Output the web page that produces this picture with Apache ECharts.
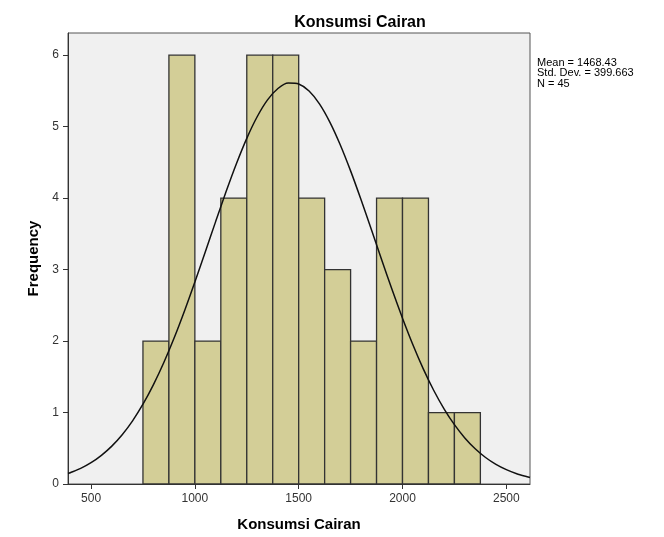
<!DOCTYPE html>
<html>
<head>
<meta charset="utf-8">
<script src="https://cdn.jsdelivr.net/npm/echarts@6/dist/echarts.min.js"></script>
<style>html,body{margin:0;padding:0;background:#fff}#c{width:664px;height:537px}</style>
</head>
<body>
<div id="c"></div>
<script>
// Histogram bins (lower edge, upper edge) and frequencies
const binStarts = [750, 875, 1000, 1125, 1250, 1375, 1500, 1625, 1750, 1875, 2000, 2125, 2250];
const binEnds   = [875, 1000, 1125, 1250, 1375, 1500, 1625, 1750, 1875, 2000, 2125, 2250, 2375];
const frequencies = [2, 6, 2, 4, 6, 6, 4, 3, 2, 4, 4, 1, 1];

// Fitted normal curve
const curveX = [389, 400, 450, 500, 550, 600, 650, 700, 750, 800, 850, 900, 950, 1000, 1050, 1100, 1150, 1200, 1250, 1300, 1350, 1400, 1450, 1500, 1550, 1600, 1650, 1700, 1750, 1800, 1850, 1900, 1950, 2000, 2050, 2100, 2150, 2200, 2250, 2300, 2350, 2400, 2450, 2500, 2550, 2600, 2614];
const curveY = [0.146, 0.158, 0.218, 0.298, 0.401, 0.530, 0.690, 0.884, 1.116, 1.387, 1.696, 2.042, 2.421, 2.825, 3.246, 3.671, 4.088, 4.481, 4.836, 5.138, 5.374, 5.533, 5.609, 5.597, 5.499, 5.319, 5.064, 4.747, 4.381, 3.980, 3.560, 3.134, 2.717, 2.319, 1.948, 1.611, 1.312, 1.052, 0.830, 0.645, 0.493, 0.371, 0.275, 0.201, 0.144, 0.102, 0.092];

const xTicks = [500, 1000, 1500, 2000, 2500];
const yTicks = [0, 1, 2, 3, 4, 5, 6];
const statsLines = ['Mean = 1468.43', 'Std. Dev. = 399.663', 'N = 45'];

const barData = binStarts.map((s, i) => [s, binEnds[i], frequencies[i]]);
const curveData = curveX.map((x, i) => [x, curveY[i]]);

const chart = echarts.init(document.getElementById('c'), null, {renderer: 'canvas'});
const font = 'Liberation Sans, Arial, sans-serif';
chart.setOption({
  animation: false,
  backgroundColor: '#ffffff',
  title: {
    text: 'Konsumsi Cairan',
    left: 355, top: 10, textAlign: 'center',
    textStyle: {fontFamily: font, fontSize: 16, fontWeight: 'bold', color: '#000'}
  },
  grid: {
    left: 68, top: 33, width: 462, height: 451,
    show: true, backgroundColor: '#f0f0f0', borderColor: '#555', borderWidth: 1
  },
  xAxis: {
    type: 'value', min: 389, max: 2614,
    name: 'Konsumsi Cairan', nameLocation: 'middle', nameGap: 33,
    nameTextStyle: {fontFamily: font, fontSize: 15, fontWeight: 'bold', color: '#000'},
    axisLine: {show: true, lineStyle: {color: '#333', width: 1}},
    axisTick: {show: true, length: 5, lineStyle: {color: '#333'}, customValues: xTicks},
    axisLabel: {customValues: xTicks, margin: 9, fontFamily: font, fontSize: 12, color: '#333',
      formatter: v => String(v)},
    splitLine: {show: false}
  },
  yAxis: {
    type: 'value', min: 0, max: 6.31,
    name: 'Frequency', nameLocation: 'middle', nameGap: 25,
    nameTextStyle: {fontFamily: font, fontSize: 15, fontWeight: 'bold', color: '#000'},
    axisLine: {show: true, lineStyle: {color: '#333', width: 1}},
    axisTick: {show: true, length: 5, lineStyle: {color: '#333'}, customValues: yTicks},
    axisLabel: {customValues: yTicks, margin: 9, fontFamily: font, fontSize: 12, color: '#333',
      formatter: v => String(v)},
    splitLine: {show: false}
  },
  series: [
    {
      type: 'custom',
      data: barData,
      encode: {x: [0, 1], y: 2},
      renderItem: function (params, api) {
        const p0 = api.coord([api.value(0), api.value(2)]);
        const p1 = api.coord([api.value(1), 0]);
        return {
          type: 'rect',
          shape: {x: p0[0], y: p0[1], width: p1[0] - p0[0], height: p1[1] - p0[1]},
          style: {fill: '#d3ce97', stroke: '#333', lineWidth: 1.3}
        };
      },
      z: 2
    },
    {
      type: 'line',
      data: curveData,
      smooth: 0.25,
      showSymbol: false,
      lineStyle: {color: '#111', width: 1.5},
      z: 3
    }
  ],
  graphic: [{
    type: 'text', left: 537, top: 57,
    style: {text: statsLines.join('\n'), fontFamily: font, fontSize: 11, lineHeight: 10.5, fill: '#000'}
  }]
});
</script>
</body>
</html>
